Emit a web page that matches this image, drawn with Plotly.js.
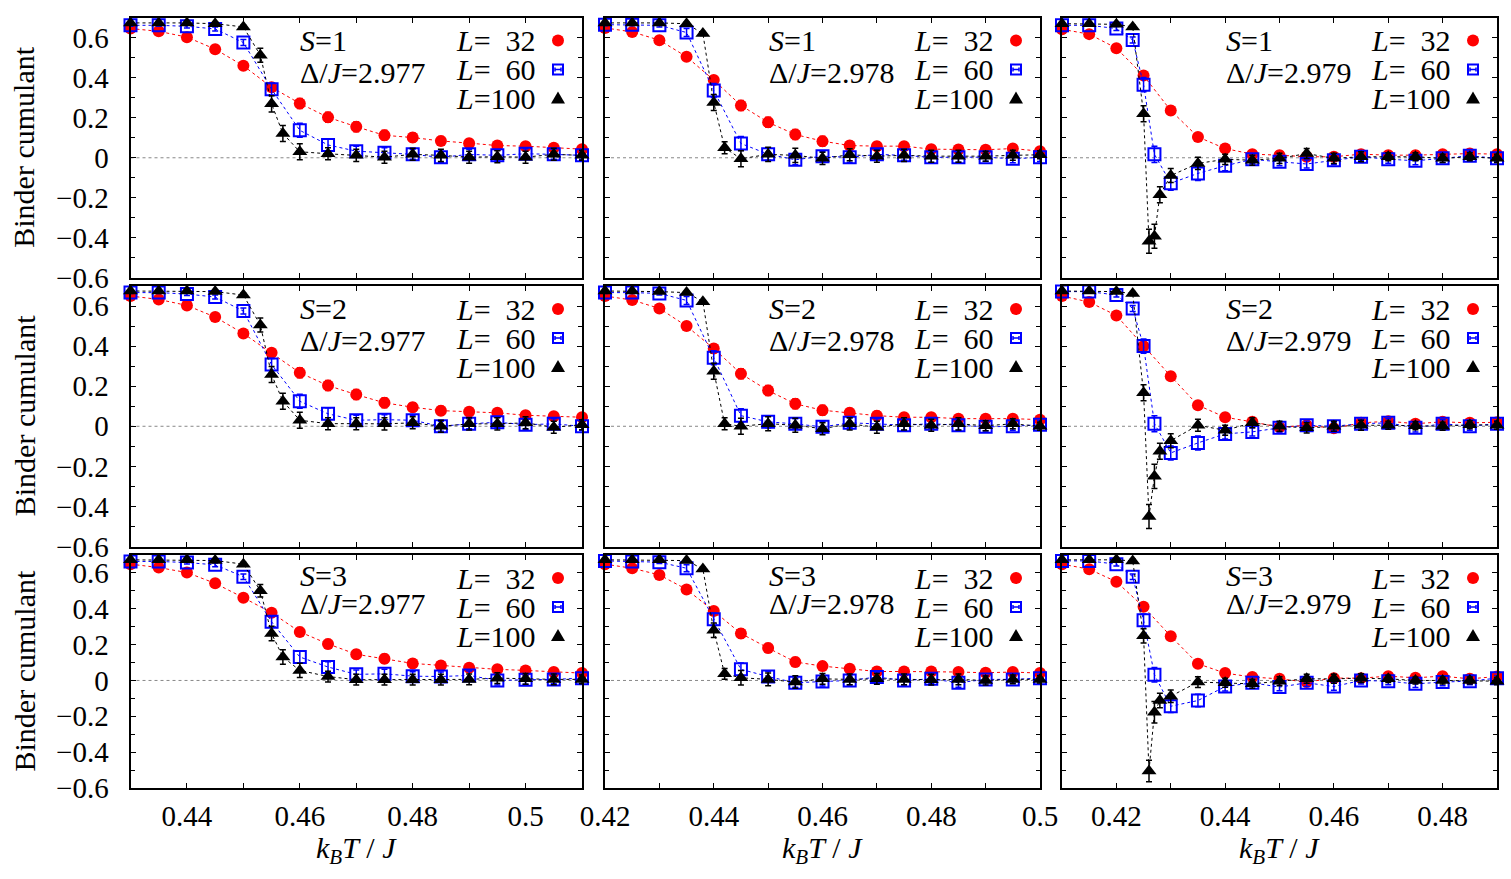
<!DOCTYPE html>
<html><head><meta charset="utf-8">
<script src="https://cdn.plot.ly/plotly-3.0.1.min.js"></script>
<style>html,body{margin:0;padding:0;background:#fff;}#chart{width:1511px;height:879px;}</style>
</head><body><div id="chart"></div>
<script>
// ---------- temperature grids (k_B T / J) ----------
const xA    = [0.430,0.435,0.440,0.445,0.450,0.455,0.460,0.465,0.470,0.475,0.480,0.485,0.490,0.495,0.500,0.505,0.510];
const xA100 = [0.430,0.435,0.440,0.445,0.450,0.453,0.455,0.457,0.460,0.465,0.470,0.475,0.480,0.485,0.490,0.495,0.500,0.505,0.510];
const xB    = [0.420,0.425,0.430,0.435,0.440,0.445,0.450,0.455,0.460,0.465,0.470,0.475,0.480,0.485,0.490,0.495,0.500];
const xB100 = [0.420,0.425,0.430,0.435,0.438,0.440,0.442,0.445,0.450,0.455,0.460,0.465,0.470,0.475,0.480,0.485,0.490,0.495,0.500];
const xC    = [0.410,0.415,0.420,0.425,0.430,0.435,0.440,0.445,0.450,0.455,0.460,0.465,0.470,0.475,0.480,0.485,0.490];
const xC60  = [0.410,0.415,0.420,0.423,0.425,0.427,0.430,0.435,0.440,0.445,0.450,0.455,0.460,0.465,0.470,0.475,0.480,0.485,0.490];
const xC100 = [0.410,0.415,0.420,0.423,0.425,0.426,0.427,0.428,0.430,0.435,0.440,0.445,0.450,0.455,0.460,0.465,0.470,0.475,0.480,0.485,0.490];

// ---------- Binder cumulant values ----------
const s1d977L32  = [0.645,0.631,0.602,0.542,0.459,0.352,0.271,0.202,0.155,0.112,0.101,0.084,0.073,0.061,0.058,0.050,0.043];
const s1d977L60  = [0.661,0.661,0.656,0.643,0.575,0.342,0.137,0.064,0.033,0.025,0.017,0.002,0.017,0.012,0.020,0.017,0.012];
const s1d977L100 = [0.673,0.673,0.673,0.669,0.653,0.512,0.269,0.121,0.030,0.020,0.012,0.003,0.017,0.012,0.003,0.005,0.003,0.017,0.012];
const s1d978L32  = [0.648,0.628,0.587,0.504,0.388,0.261,0.177,0.116,0.083,0.061,0.058,0.058,0.043,0.041,0.040,0.046,0.033];
const s1d978L60  = [0.664,0.664,0.661,0.625,0.336,0.071,0.018,-0.010,0.008,0.002,0.017,0.012,0.002,0.003,0.003,-0.005,0.002];
const s1d978L100 = [0.673,0.673,0.673,0.669,0.620,0.276,0.050,-0.005,0.017,0.012,-0.003,0.015,0.008,0.012,0.008,0.008,0.008,0.012,0.015];
const s1d979L32  = [0.641,0.617,0.547,0.410,0.236,0.104,0.046,0.018,0.013,0.005,0.005,0.018,0.013,0.013,0.017,0.021,0.018];
const s1d979L60  = [0.661,0.661,0.645,0.588,0.365,0.017,-0.127,-0.078,-0.040,-0.008,-0.020,-0.031,-0.013,0.005,-0.007,-0.015,-0.003,0.010,-0.003];
const s1d979L100 = [0.669,0.669,0.666,0.653,0.220,-0.417,-0.392,-0.185,-0.089,-0.028,-0.008,-0.012,-0.003,0.021,-0.003,0.005,0.005,0.005,-0.003,0.005,-0.003];

const s2d977L32  = [0.650,0.633,0.603,0.545,0.463,0.367,0.267,0.203,0.158,0.117,0.095,0.078,0.072,0.067,0.055,0.050,0.045];
const s2d977L60  = [0.667,0.667,0.660,0.645,0.575,0.308,0.125,0.062,0.030,0.033,0.030,0.000,0.012,0.020,0.008,0.012,0.000];
const s2d977L100 = [0.675,0.675,0.675,0.672,0.655,0.505,0.258,0.125,0.030,0.013,0.013,0.012,0.017,0.000,0.012,0.012,0.017,-0.005,0.008];
const s2d978L32  = [0.650,0.630,0.588,0.500,0.388,0.262,0.178,0.112,0.080,0.067,0.053,0.045,0.045,0.038,0.038,0.038,0.033];
const s2d978L60  = [0.667,0.667,0.663,0.628,0.342,0.053,0.022,0.012,-0.003,0.017,0.012,0.005,0.013,0.005,-0.003,0.000,0.008];
const s2d978L100 = [0.675,0.675,0.672,0.667,0.622,0.275,0.013,0.000,0.013,0.005,-0.012,0.012,-0.005,0.012,0.005,0.012,0.003,0.012,0.000];
const s2d979L32  = [0.650,0.620,0.553,0.400,0.250,0.105,0.045,0.022,-0.005,0.005,-0.010,0.017,0.025,0.013,0.022,0.017,0.020];
const s2d979L60  = [0.672,0.672,0.655,0.588,0.400,0.013,-0.133,-0.083,-0.038,-0.028,-0.008,0.005,0.000,0.013,0.017,-0.008,0.013,0.000,0.013];
const s2d979L100 = [0.675,0.675,0.672,0.662,0.167,-0.450,-0.250,-0.125,-0.072,0.005,-0.020,0.017,0.000,-0.008,0.000,0.005,0.005,0.003,0.000,0.008,0.005];

const s3d977L32  = [0.649,0.630,0.602,0.542,0.462,0.378,0.271,0.204,0.146,0.121,0.095,0.084,0.071,0.062,0.056,0.047,0.041];
const s3d977L60  = [0.664,0.664,0.658,0.645,0.579,0.327,0.131,0.075,0.034,0.037,0.024,0.022,0.028,0.000,0.004,0.006,0.013];
const s3d977L100 = [0.673,0.673,0.673,0.669,0.649,0.501,0.262,0.131,0.056,0.022,0.004,0.004,0.004,0.004,0.006,0.013,0.009,0.006,0.006];
const s3d978L32  = [0.649,0.626,0.589,0.508,0.387,0.262,0.181,0.103,0.080,0.065,0.050,0.050,0.050,0.047,0.043,0.047,0.041];
const s3d978L60  = [0.667,0.664,0.660,0.626,0.342,0.062,0.022,-0.013,-0.006,0.000,0.019,0.000,0.009,-0.013,0.006,0.006,0.013];
const s3d978L100 = [0.673,0.673,0.673,0.669,0.622,0.280,0.037,0.015,0.006,-0.009,0.009,0.006,0.009,0.006,0.004,0.006,0.000,0.006,0.006];
const s3d979L32  = [0.649,0.621,0.551,0.411,0.247,0.093,0.041,0.019,0.009,-0.009,0.013,0.013,0.024,0.015,0.024,0.009,0.022];
const s3d979L60  = [0.667,0.667,0.649,0.579,0.336,0.032,-0.144,-0.112,-0.034,-0.013,-0.037,-0.013,-0.034,0.000,-0.004,-0.019,-0.009,-0.004,0.013];
const s3d979L100 = [0.673,0.673,0.673,0.667,0.249,-0.505,-0.178,-0.112,-0.088,-0.009,-0.013,-0.019,-0.004,0.009,0.009,0.013,0.009,0.000,0.000,0.000,-0.004];

// ---------- error bars (per column / lattice size) ----------
const eA32  = [0.005,0.008,0.010,0.012,0.012,0.020,0.025,0.025,0.025,0.025,0.022,0.022,0.020,0.020,0.015,0.015,0.015];
const eA60  = [0.005,0.005,0.008,0.010,0.015,0.030,0.035,0.030,0.025,0.025,0.025,0.025,0.025,0.025,0.025,0.025,0.020];
const eA100 = [0.005,0.005,0.005,0.008,0.010,0.035,0.040,0.040,0.040,0.030,0.030,0.030,0.030,0.030,0.030,0.030,0.030,0.030,0.025];
const eB32  = [0.005,0.008,0.010,0.015,0.020,0.025,0.025,0.025,0.025,0.022,0.022,0.020,0.020,0.020,0.018,0.018,0.015];
const eB60  = [0.005,0.005,0.008,0.020,0.035,0.035,0.030,0.025,0.025,0.025,0.025,0.025,0.025,0.025,0.020,0.020,0.020];
const eB100 = [0.005,0.005,0.005,0.008,0.010,0.040,0.030,0.040,0.035,0.035,0.030,0.030,0.030,0.030,0.030,0.030,0.025,0.025,0.020];
const eC32  = [0.005,0.008,0.010,0.015,0.020,0.020,0.020,0.020,0.020,0.020,0.020,0.020,0.020,0.020,0.018,0.018,0.015];
const eC60  = [0.005,0.005,0.010,0.015,0.035,0.040,0.035,0.035,0.025,0.020,0.020,0.020,0.020,0.020,0.020,0.020,0.020,0.020,0.015];
const eC100 = [0.005,0.005,0.005,0.010,0.040,0.060,0.060,0.040,0.035,0.030,0.025,0.025,0.025,0.025,0.025,0.025,0.020,0.020,0.020,0.020,0.020];

// ---------- labels ----------
const spinLabels  = ['1','2','3'];
const deltaLabels = ['2.977','2.978','2.979'];
const sizeLabels  = ['=\u00a0\u00a032','=\u00a0\u00a060','=100'];
const colRanges   = [[0.43,0.51],[0.42,0.50],[0.41,0.49]];

const valueSets = [
  [s1d977L32,s1d977L60,s1d977L100],[s1d978L32,s1d978L60,s1d978L100],[s1d979L32,s1d979L60,s1d979L100],
  [s2d977L32,s2d977L60,s2d977L100],[s2d978L32,s2d978L60,s2d978L100],[s2d979L32,s2d979L60,s2d979L100],
  [s3d977L32,s3d977L60,s3d977L100],[s3d978L32,s3d978L60,s3d978L100],[s3d979L32,s3d979L60,s3d979L100]
];
const xSets   = [[xA,xA,xA100],[xB,xB,xB100],[xC,xC60,xC100]];
const errSets = [[eA32,eA60,eA100],[eB32,eB60,eB100],[eC32,eC60,eC100]];

// ---------- styling / layout ----------
const W = 1511, H = 879;
const colPx = [[130.5,582],[605,1040],[1062,1497]];
const rowPx = [[17.5,278],[286,546.5],[555,788]];
const FONT = 'Liberation Serif, Times New Roman, serif';
const colors = ['#ff0000','#0000ff','#000000'];
const symbols = ['circle','square-open','triangle-up'];
const msizes = [12,12,13];

const traces = [];
const layout = {
  width: W, height: H, margin: {l:0,r:0,t:0,b:0},
  paper_bgcolor: '#fff', plot_bgcolor: '#fff', showlegend: false,
  font: {family: FONT, size: 28, color: '#000'},
  shapes: [], annotations: []
};

for (let k = 0; k < 9; k++) {
  const r = Math.floor(k/3), c = k % 3, n = k + 1;
  const xa = 'x' + (n === 1 ? '' : n), ya = 'y' + (n === 1 ? '' : n);
  const xkey = 'xaxis' + (n === 1 ? '' : n), ykey = 'yaxis' + (n === 1 ? '' : n);
  layout[xkey] = {
    domain: [colPx[c][0]/W, colPx[c][1]/W], range: colRanges[c], anchor: ya,
    tickmode: 'linear', tick0: 0.42, dtick: 0.02,
    ticks: 'inside', ticklen: 5, tickwidth: 1, tickcolor: '#000',
    minor: {dtick: 0.01, ticks: 'inside', ticklen: 5, tickwidth: 1, tickcolor: '#000'},
    showline: true, mirror: 'ticks', linewidth: 2, linecolor: '#000',
    showgrid: false, zeroline: false, showticklabels: r === 2,
    tickfont: {family: FONT, size: 29, color: '#000'}, ticklabelstandoff: 1,
    fixedrange: true
  };
  layout[ykey] = {
    domain: [1 - rowPx[r][1]/H, 1 - rowPx[r][0]/H], range: [-0.6, 0.7], anchor: xa,
    tickmode: 'linear', tick0: 0, dtick: 0.2,
    ticks: 'inside', ticklen: 5, tickwidth: 1, tickcolor: '#000',
    minor: {dtick: 0.1, ticks: 'inside', ticklen: 4, tickwidth: 1, tickcolor: '#000'},
    showline: true, mirror: 'ticks', linewidth: 2, linecolor: '#000',
    showgrid: false, zeroline: false, showticklabels: c === 0,
    tickfont: {family: FONT, size: 29, color: '#000'}, ticklabelstandoff: 14,
    fixedrange: true
  };
  // zero reference line
  layout.shapes.push({type:'line', xref: xa + ' domain', yref: ya, x0: 0, x1: 1, y0: 0, y1: 0,
    line: {color: '#888', width: 1, dash: 'dot'}, layer: 'below'});

  for (let s = 0; s < 3; s++) {
    traces.push({
      type: 'scatter', mode: 'lines+markers', xaxis: xa, yaxis: ya,
      x: xSets[c][s], y: valueSets[k][s], cliponaxis: false,
      line: {color: colors[s], width: 1, dash: 'dot'},
      marker: {symbol: symbols[s], size: msizes[s], color: colors[s], line: {width: s === 1 ? 2 : 0, color: colors[s]}},
      error_y: {type: 'data', array: errSets[c][s], visible: true, color: colors[s], thickness: 1.5, width: 3},
      hoverinfo: 'x+y'
    });
  }

  // S and Delta labels
  const txtFont = {family: FONT, size: 30, color: '#000'};
  layout.annotations.push({xref: xa + ' domain', yref: ya + ' domain', x: 0.372, y: 0.912,
    xanchor: 'left', yanchor: 'middle', showarrow: false, font: txtFont,
    text: '<i>S</i>=' + spinLabels[r]});
  layout.annotations.push({xref: xa + ' domain', yref: ya + ' domain', x: 0.372, y: 0.79,
    xanchor: 'left', yanchor: 'middle', showarrow: false, font: txtFont,
    text: '\u0394/<i>J</i>=' + deltaLabels[c]});
  // key entries
  const keyOff = [23, 52, 81];
  for (let s = 0; s < 3; s++) {
    layout.annotations.push({xref: xa + ' domain', yref: ya + ' domain', x: 1, y: 1,
      xshift: -44, yshift: -keyOff[s], xanchor: 'right', yanchor: 'middle', showarrow: false,
      font: txtFont, text: '<i>L</i>' + sizeLabels[s]});
  }
  const kx = -24;
  const base = {xref: xa + ' domain', yref: ya + ' domain', xsizemode: 'pixel', ysizemode: 'pixel', xanchor: 1, yanchor: 1};
  layout.shapes.push(Object.assign({}, base, {type: 'circle', x0: kx-6, x1: kx+6, y0: -keyOff[0]-6, y1: -keyOff[0]+6,
    fillcolor: colors[0], line: {width: 0}}));
  layout.shapes.push(Object.assign({}, base, {type: 'rect', x0: kx-5, x1: kx+5, y0: -keyOff[1]-5, y1: -keyOff[1]+5,
    line: {width: 2, color: colors[1]}}));
  layout.shapes.push(Object.assign({}, base, {type: 'path',
    path: `M${kx-3},${-keyOff[1]} L${kx+3},${-keyOff[1]} M${kx-3},${-keyOff[1]-2} L${kx-3},${-keyOff[1]+2} M${kx+3},${-keyOff[1]-2} L${kx+3},${-keyOff[1]+2}`,
    line: {width: 1.5, color: colors[1]}}));
  const ty = -keyOff[2];
  layout.shapes.push(Object.assign({}, base, {type: 'path',
    path: `M${kx-7},${ty-5} L${kx+7},${ty-5} L${kx},${ty+7} Z`, fillcolor: colors[2], line: {width: 0}}));

  // axis titles
  if (r === 2) {
    layout.annotations.push({xref: xa + ' domain', yref: 'paper', x: 0.5, y: 1 - 850/H,
      xanchor: 'center', yanchor: 'middle', showarrow: false, font: {family: FONT, size: 30, color: '#000'},
      text: '<i>k</i><sub><i>B</i></sub><i>T</i> / <i>J</i>'});
  }
  if (c === 0) {
    layout.annotations.push({xref: 'paper', yref: ya + ' domain', x: 24/W, y: 0.5,
      xanchor: 'center', yanchor: 'middle', textangle: -90, showarrow: false,
      font: {family: FONT, size: 30, color: '#000'}, text: 'Binder cumulant'});
  }
}

Plotly.newPlot('chart', traces, layout, {staticPlot: true, displayModeBar: false});
</script></body></html>
